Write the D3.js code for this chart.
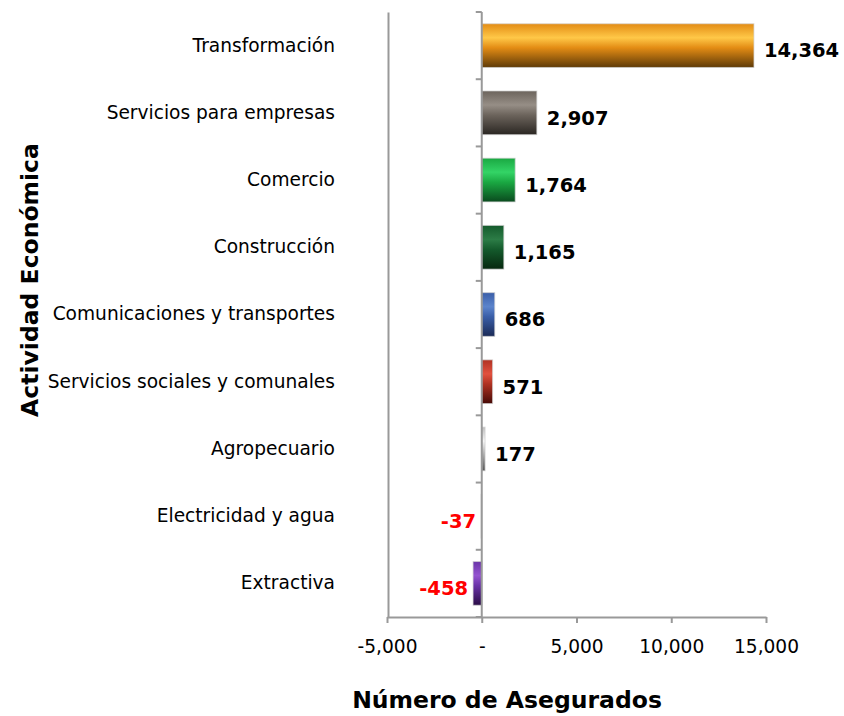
<!DOCTYPE html>
<html>
<head>
    <meta http-equiv="Content-Type" content="text/html;charset=utf8" />
    <title>Actividad Económica</title>
    <script src="https://cdnjs.cloudflare.com/ajax/libs/d3/7.8.5/d3.min.js"></script>
    <style>
        body { margin: 0; background: #fff; font-family: "DejaVu Sans", sans-serif; }
        .axis text { font-family: "DejaVu Sans", sans-serif; fill: #000; }
    </style>
</head>
<body>

<div id="chart"></div>

<script>
    // data, top to bottom
    var categories = ["Transformación", "Servicios para empresas", "Comercio", "Construcción",
        "Comunicaciones y transportes", "Servicios sociales y comunales", "Agropecuario",
        "Electricidad y agua", "Extractiva"];
    var values = [14364, 2907, 1764, 1165, 686, 571, 177, -37, -458];
    var xTicks = [-5000, 0, 5000, 10000, 15000];

    // [top edge, highlight, bottom shade] for the cylinder-like fills
    var barColors = [
        ["#e38c14", "#ffc848", "#5e3a08"],
        ["#6c645c", "#968e86", "#2a2622"],
        ["#1aa842", "#33d466", "#0a4a1e"],
        ["#145a2c", "#2c7c46", "#07280f"],
        ["#3a5ea8", "#5c84cc", "#1a2a56"],
        ["#b03222", "#e2513f", "#460a06"],
        ["#bdbdbd", "#f6f6f6", "#555555"],
        ["#9ab0c0", "#d8e4ec", "#506070"],
        ["#6a34a8", "#9454d0", "#2a0c46"]
    ];

    var W = 844, H = 716;
    var plotL = 387, plotR = 766, plotT = 12, plotB = 617;

    // plain hyphen for negatives, like the original
    var fmt = d3.formatLocale({decimal: ".", thousands: ",", grouping: [3], currency: ["", ""], minus: "-"}).format(",");

    var svg = d3.select("#chart").append("svg").attr("width", W).attr("height", H);

    var x = d3.scaleLinear().domain([-5000, 15000]).range([plotL, plotR]);
    var y = d3.scaleBand().domain(categories).range([plotT, plotB]).paddingInner(0.35).paddingOuter(0.175);

    // gradients
    var defs = svg.append("defs");
    barColors.forEach(function(c, i) {
        var g = defs.append("linearGradient").attr("id", "g" + i)
            .attr("x1", 0).attr("y1", 0).attr("x2", 0).attr("y2", 1);
        g.append("stop").attr("offset", "0%").attr("stop-color", c[0]);
        g.append("stop").attr("offset", "32%").attr("stop-color", c[1]);
        g.append("stop").attr("offset", "55%").attr("stop-color", c[0]);
        g.append("stop").attr("offset", "100%").attr("stop-color", c[2]);
    });

    // category labels + left line (domain path)
    var yAxis = svg.append("g").attr("class", "axis")
        .attr("transform", "translate(" + (plotL + 1) + ",0)")
        .call(d3.axisLeft(y).tickSizeInner(0).tickSizeOuter(0).tickPadding(53));
    yAxis.selectAll("text").style("font-size", "18.6px");
    yAxis.select(".domain").attr("stroke", "#999").attr("stroke-width", 2);

    // bottom axis
    var xAxis = svg.append("g").attr("class", "axis")
        .attr("transform", "translate(0," + plotB + ")")
        .call(d3.axisBottom(x).tickValues(xTicks).tickSizeInner(6).tickSizeOuter(0).tickPadding(17)
            .tickFormat(function(d) { return d === 0 ? "-" : fmt(d); }));
    xAxis.selectAll("text").style("font-size", "18.6px");
    xAxis.select(".domain").attr("stroke", "#999").attr("stroke-width", 2);
    xAxis.selectAll(".tick line").attr("stroke", "#999").attr("stroke-width", 2);

    // bars
    svg.append("g").selectAll("rect").data(values).enter().append("rect")
        .attr("x", function(d) { return x(Math.min(0, d)); })
        .attr("y", function(d, i) { return y(categories[i]); })
        .attr("width", function(d) { return Math.abs(x(d) - x(0)); })
        .attr("height", y.bandwidth())
        .attr("fill", function(d, i) { return "url(#g" + i + ")"; })
        .attr("stroke", "rgba(210,210,210,0.7)")
        .attr("stroke-width", 1);

    // zero line with category boundary ticks
    var bounds = d3.range(categories.length + 1).map(function(i) { return plotT + i * y.step(); });
    var zero = svg.append("g").attr("stroke", "#999").attr("stroke-width", 2);
    zero.append("line").attr("x1", x(0)).attr("x2", x(0)).attr("y1", plotT).attr("y2", plotB);
    zero.selectAll("line.b").data(bounds).enter().append("line").attr("class", "b")
        .attr("x1", x(0) - 6).attr("x2", x(0)).attr("y1", function(d) { return d; }).attr("y2", function(d) { return d; });

    // value labels
    svg.append("g").selectAll("text").data(values).enter().append("text")
        .attr("x", function(d) { return d >= 0 ? x(d) + 10 : x(d) - 5; })
        .attr("y", function(d, i) { return y(categories[i]) + y.bandwidth() / 2 + 5; })
        .attr("dy", "0.35em")
        .attr("text-anchor", function(d) { return d >= 0 ? "start" : "end"; })
        .style("font-size", "19.5px").style("font-weight", "bold")
        .attr("fill", function(d) { return d >= 0 ? "#000" : "#ff0000"; })
        .text(function(d) { return fmt(d); });

    // axis titles
    svg.append("text").attr("x", 507).attr("y", 708).attr("text-anchor", "middle")
        .style("font-size", "23.5px").style("font-weight", "bold")
        .text("Número de Asegurados");
    svg.append("text").attr("transform", "translate(38,280) rotate(-90)").attr("text-anchor", "middle")
        .style("font-size", "23.5px").style("font-weight", "bold")
        .text("Actividad Económica");
</script>

</body>
</html>
